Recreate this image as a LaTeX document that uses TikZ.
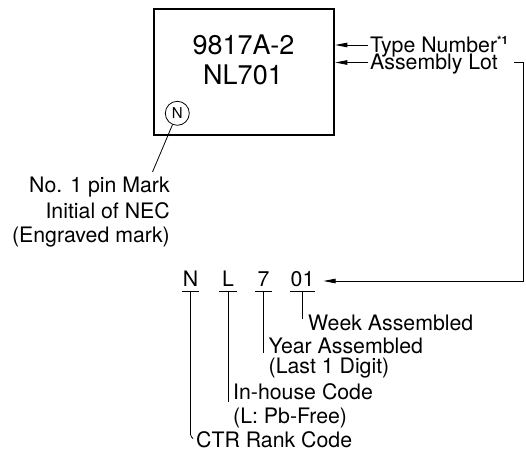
\documentclass[tikz,border=0pt]{standalone}
\usepackage{fontspec}
\setmainfont{TeX Gyre Heros}
\usetikzlibrary{arrows.meta}
\begin{document}
\begin{tikzpicture}[x=1pt,y=-1pt,
  lbl/.style={inner sep=0pt,font=\fontsize{21.3}{24.5}\selectfont},
  big/.style={inner sep=0pt,font=\fontsize{27}{30}\selectfont},
  conn/.style={line width=0.8pt},
  arr/.style={line width=0.8pt,-{Triangle[length=12pt,width=4.5pt]}},
  chr/.style={inner sep=0pt,text height=15pt,text depth=5pt,font=\fontsize{21.3}{24.5}\selectfont}]
\useasboundingbox (0,0) rectangle (526,454);
% chip
\node[draw,line width=2.6pt,minimum width=180pt,minimum height=126pt,inner sep=0pt] (box) at (244,72) {};
\node[big,anchor=base] (tn) at (243.5,55) {9817A-2};
\node[big,anchor=base] (ln) at (243,85) {NL701};
\node[draw,circle,line width=0.8pt,minimum size=24pt,inner sep=0pt,font=\fontsize{15}{15}\selectfont] (pin) at (177.3,113.3) {N};
% left label
\node[lbl,anchor=base east] (pl1) at (170,193) {No. 1 pin Mark};
\node[lbl,anchor=base east] (pl2) at (170,218) {Initial of NEC};
\node[lbl,anchor=base east] (pl3) at (170,242) {(Engraved mark)};
\coordinate (pe) at (152.5,172);
\draw[conn] (pin) -- (pe);
% right labels
\node[lbl,anchor=base west] (type) at (370,52.5) {Type Number\textsuperscript{\bfseries\fontsize{11.5}{11.5}\selectfont *1}};
\node[lbl,anchor=base west] (asm) at (370,70) {Assembly Lot};
\draw[arr] ([yshift=7.5pt,xshift=-2pt]type.base west) -- ([yshift=7.5pt]type.base west -| box.east);
\draw[arr] ([yshift=7.5pt,xshift=-2pt]asm.base west) -- ([yshift=7.5pt]asm.base west -| box.east);
% lot characters
\node[chr,minimum width=17pt] (cN) at (190.5,281) {N};
\node[chr,minimum width=18pt] (cL) at (228,281) {L};
\node[chr,minimum width=17pt] (c7) at (263.5,281) {7};
\node[chr,minimum width=21pt] (c01) at (302.5,281) {01};
\foreach \c in {cN,cL,c7,c01} \draw[conn] (\c.south west) -- (\c.south east);
% lot connector from Assembly Lot
\coordinate (la) at (514,62.5);
\coordinate (lb) at (523,62.5);
\draw[arr] (la) -- (lb) |- ([xshift=9pt]c01.east);
% bottom labels
\node[lbl,anchor=base west] (wk) at (308,330) {Week Assembled};
\node[lbl,anchor=base west] (yr) at (268.5,353) {Year Assembled};
\node[lbl,anchor=base west] (yr2) at (268.5,373) {(Last 1 Digit)};
\node[lbl,anchor=base west] (ih) at (233,399.5) {In-house Code};
\node[lbl,anchor=base west] (ih2) at (233,423.5) {(L: Pb-Free)};
\node[lbl,anchor=base west] (ctr) at (196,447.5) {CTR Rank Code};
\draw[conn] (c01.south) -- (c01.south |- {(0,319)});
\draw[conn] (c7.south) -- (c7.south |- yr.base west);
\draw[conn] (cL.south) -- (cL.south |- {(0,402)});
\draw[conn,rounded corners=1.5pt] (cN.south) -- (cN.south |- {(0,436)}) -- ([xshift=-3pt,yshift=9pt]ctr.base west);
\end{tikzpicture}
\end{document}
